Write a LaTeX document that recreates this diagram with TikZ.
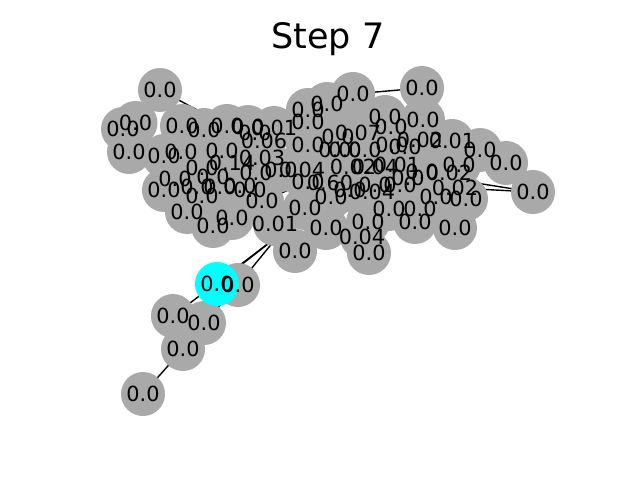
\documentclass[tikz,border=0pt]{standalone}
\usepackage{fontspec}
\setmainfont{DejaVu Sans}
\pgfdeclarelayer{bg}\pgfdeclarelayer{fg}
\pgfsetlayers{bg,main,fg}
\definecolor{nodegray}{HTML}{A9A9A9}
\definecolor{hilite}{RGB}{0,255,255}
\tikzset{x=0.72pt,y=-0.72pt,
 dot/.style={circle,fill=nodegray,draw=none,minimum size=31.7pt,inner sep=0pt},
 cyandot/.style={dot,fill=hilite},
 lab/.style={font=\fontsize{15}{15}\selectfont,text=black,inner sep=0pt},
 edge/.style={draw=black,line width=1.0pt}}
\newcommand{\N}[4]{\node[dot] (#1) at (#2,#3) {};
 \begin{pgfonlayer}{fg}\node[lab] at (#1) {#4};\end{pgfonlayer}}
\begin{document}
\begin{tikzpicture}
\useasboundingbox (0,0) rectangle (640,480);
\node[font=\fontsize{25.2}{25}\selectfont] (title) at (328,39.5) {Step 7};
% left cluster
\N{a1}{160}{90}{0.0}
\N{a2}{123}{129}{0.0}
\N{a3}{135.5}{123}{0.0}
\N{a4}{129}{152}{0.0}
\N{a5}{164}{156}{0.0}
\N{a6}{182}{126}{0.0}
\N{a7}{204}{130}{0.0}
\N{a8}{227}{126}{0.0}
\N{a9}{181}{152}{0.0}
\N{a10}{222}{151}{0.0}
\N{a11}{202}{168}{0.0}
\N{a12}{232}{163}{0.14}
\N{a13}{262}{158}{0.03}
\N{a14}{256}{173}{0.0}
\N{a15}{264}{141}{0.06}
\N{a16}{274}{128}{0.01}
\N{a17}{164}{190}{0.0}
\N{a18}{175}{179}{0.0}
\N{a19}{187}{212}{0.0}
\N{a20}{213}{226}{0.0}
\N{a21}{232}{218}{0.0}
\N{a22}{202}{196}{0.0}
\N{a23}{197}{187}{0.0}
\N{a24}{220}{187}{0.0}
\N{a25}{240}{186}{0.0}
\N{a26}{250}{190}{0.0}
\N{a27}{262}{201}{0.0}
\N{a28}{213}{177}{0.0}
\N{a29}{248}{127}{0.0}
\N{a30}{255}{133}{0.0}
\N{a31}{281}{170}{0.0}
% centre
\N{b1}{275}{224}{0.01}
\N{b2}{295}{251}{0.0}
\N{b3}{305}{208}{0.0}
\N{b4}{326}{228}{0.0}
\N{b5}{331}{197}{0.0}
\N{b6}{350}{190}{0.0}
\N{b7}{372}{192}{0.04}
\N{b8}{368}{222}{0.0}
\N{b9}{362}{237}{0.04}
\N{b10}{369}{253}{0.0}
\N{b11}{389}{209}{0.0}
\N{b12}{415}{222}{0.0}
\N{b13}{420}{209}{0.0}
\N{b14}{302}{170}{0.04}
\N{b15}{330}{183}{0.60}
\N{b16}{353}{167}{0.02}
\N{b17}{375}{167}{0.04}
\N{b18}{397}{165}{0.01}
\N{b19}{308}{122}{0.0}
\N{b20}{308}{110}{0.0}
\N{b21}{327}{104}{0.0}
\N{b22}{353}{94}{0.0}
\N{b23}{358}{133}{0.07}
\N{b24}{335}{150}{0.0}
\N{b25}{338}{137}{0.0}
\N{b26}{308}{145}{0.0}
\N{b27}{385}{117}{0.0}
\N{b28}{391}{127}{0.0}
\N{b29}{392}{145}{0.0}
\N{b30}{405}{147}{0.0}
\N{b31}{375}{185}{0.0}
\N{b32}{400}{185}{0.0}
\N{b33}{308}{182}{0.0}
\N{b34}{345}{150}{0.0}
\N{b35}{365}{150}{0.0}
\N{b36}{408}{178}{0.0}
\N{b37}{422}{172}{0.0}
% right
\N{c1}{422}{88}{0.0}
\N{c2}{423}{120}{0.0}
\N{c3}{420}{140}{0.02}
\N{c4}{452}{141}{0.01}
\N{c5}{480}{150}{0.0}
\N{c6}{506}{163}{0.0}
\N{c7}{533}{192}{0.0}
\N{c8}{459}{165}{0.0}
\N{c9}{449}{173}{0.02}
\N{c10}{455}{188}{0.02}
\N{c11}{466}{199}{0.0}
\N{c12}{436}{197}{0.0}
\N{c13}{455}{228}{0.0}
% lower tail
\N{d1}{238}{285}{0.0}
\N{d2}{173}{316}{0.0}
\N{d3}{204}{323}{0.0}
\N{d4}{183}{349}{0.0}
\N{d5}{143}{394}{0.0}
\node[cyandot] (e) at (217,284) {};
\begin{pgfonlayer}{fg}\node[lab] at (e) {0.0};\end{pgfonlayer}
\coordinate (hub) at (278,236);
\begin{pgfonlayer}{bg}
\draw[edge] (d5.center) -- (d4.center);
\draw[edge] (d4.center) -- (d3.center);
\draw[edge] (d4.center) -- (d2.center);
\draw[edge] (d2.center) -- (hub);
\draw[edge] (d3.center) -- (d1.center);
\draw[edge] (e.center) -- (hub);
\draw[edge] (d1.center) -- (hub);
\draw[edge] (a1.center) -- (a8.center);
\draw[edge] (b22.center) -- (c1.center);
\draw[edge] (c1.center) -- (b28.center);
\draw[edge] (c7.center) -- (b17.center);
\draw[edge] (c7.center) -- (b32.center);
\draw[edge] (a27.center) -- (b33.center);
\end{pgfonlayer}
\end{tikzpicture}
\end{document}
